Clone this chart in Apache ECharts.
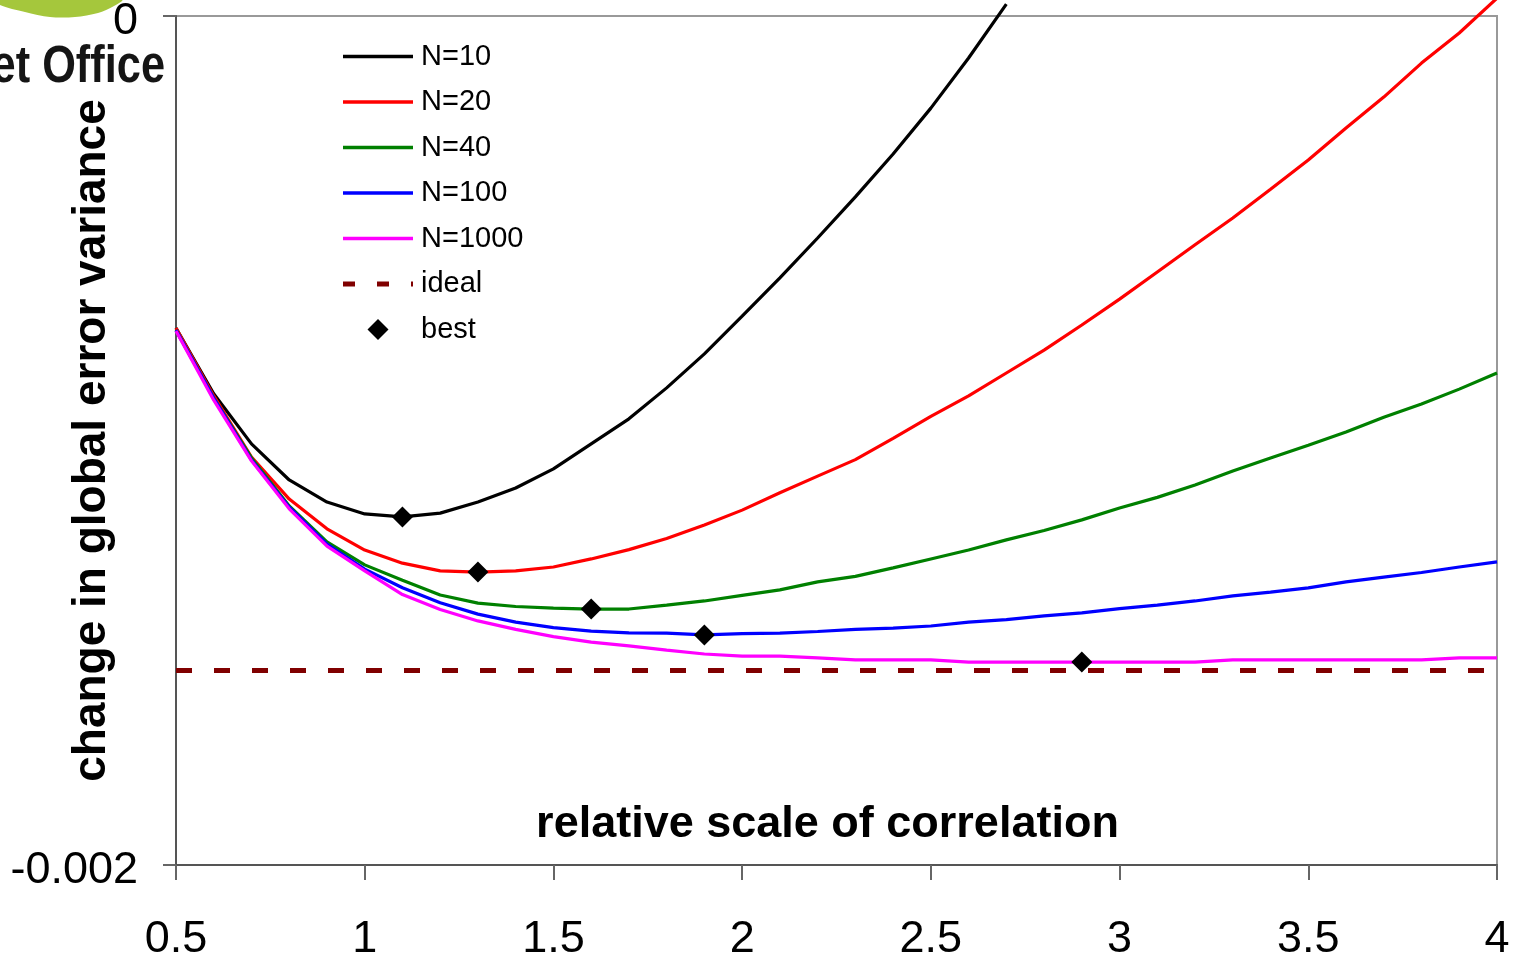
<!DOCTYPE html>
<html lang="en">
<head>
    <meta charset="UTF-8">
    <title>Error variance vs correlation scale</title>
    <script src="https://cdn.jsdelivr.net/npm/echarts@6/dist/echarts.min.js"></script>
    <style>
        html, body { margin: 0; padding: 0; background: #fff; }
        #chart { width: 1517px; height: 961px; }
    </style>
</head>
<body>
<div id="chart"></div>

<script>
    // x: relative scale of correlation
    var scales = [0.5, 0.6, 0.7, 0.8, 0.9, 1.0, 1.1, 1.2, 1.3, 1.4, 1.5, 1.6, 1.7, 1.8, 1.9, 2.0, 2.1, 2.2,
        2.3, 2.4, 2.5, 2.6, 2.7, 2.8, 2.9, 3.0, 3.1, 3.2, 3.3, 3.4, 3.5, 3.6, 3.7, 3.8, 3.9, 4.0];

    // change in global error variance, one list per ensemble size
    var n10 = [-0.000735, -0.000890, -0.001008, -0.001093, -0.001145, -0.001173, -0.001180, -0.001171,
        -0.001145, -0.001112, -0.001067, -0.001008, -0.000949, -0.000876, -0.000796, -0.000707, -0.000617,
        -0.000523, -0.000426, -0.000325, -0.000217, -0.000099, 0.000028];
    var n20 = [-0.000735, -0.000895, -0.001039, -0.001138, -0.001208, -0.001258, -0.001289, -0.001307,
        -0.001310, -0.001307, -0.001298, -0.001279, -0.001257, -0.001231, -0.001199, -0.001164, -0.001123,
        -0.001084, -0.001045, -0.000995, -0.000943, -0.000895, -0.000841, -0.000787, -0.000728, -0.000667,
        -0.000603, -0.000539, -0.000476, -0.000408, -0.000339, -0.000264, -0.000191, -0.000111, -0.000040,
        0.000042];
    var n40 = [-0.000740, -0.000900, -0.001041, -0.001154, -0.001239, -0.001293, -0.001329, -0.001364,
        -0.001383, -0.001391, -0.001395, -0.001397, -0.001397, -0.001388, -0.001378, -0.001365, -0.001352,
        -0.001333, -0.001320, -0.001300, -0.001279, -0.001258, -0.001234, -0.001212, -0.001187, -0.001159,
        -0.001134, -0.001105, -0.001072, -0.001041, -0.001011, -0.000980, -0.000945, -0.000914, -0.000879,
        -0.000841];
    var n100 = [-0.000740, -0.000900, -0.001046, -0.001157, -0.001244, -0.001303, -0.001347, -0.001382,
        -0.001409, -0.001428, -0.001441, -0.001449, -0.001453, -0.001454, -0.001458, -0.001455, -0.001454,
        -0.001450, -0.001445, -0.001442, -0.001437, -0.001428, -0.001422, -0.001413, -0.001406, -0.001396,
        -0.001388, -0.001378, -0.001366, -0.001357, -0.001347, -0.001333, -0.001322, -0.001311, -0.001298,
        -0.001286];
    var n1000 = [-0.000742, -0.000905, -0.001048, -0.001161, -0.001249, -0.001307, -0.001363, -0.001398,
        -0.001425, -0.001445, -0.001462, -0.001475, -0.001484, -0.001494, -0.001503, -0.001508, -0.001508,
        -0.001512, -0.001517, -0.001517, -0.001517, -0.001522, -0.001522, -0.001522, -0.001522, -0.001522,
        -0.001522, -0.001522, -0.001517, -0.001517, -0.001517, -0.001517, -0.001517, -0.001517, -0.001512,
        -0.001512];

    // ideal level and the best scale for each N
    var idealValue = -0.001542;
    var bestScale = [1.1, 1.3, 1.6, 1.9, 2.9];
    var bestValue = [-0.001180, -0.001310, -0.001397, -0.001458, -0.001522];

    var seriesNames = ['N=10', 'N=20', 'N=40', 'N=100', 'N=1000'];
    var seriesColors = ['#000000', '#ff0000', '#008000', '#0000ff', '#ff00ff'];
    var seriesValues = [n10, n20, n40, n100, n1000];

    var FONT = '"Liberation Sans", Arial, sans-serif';

    // legend icons (drawn to keep their aspect inside the icon box)
    var ICON_LINE = 'path://M0,0H70V3.5H0Z';
    var ICON_DASH = 'path://M0,0H12V5H0Z M34,0H46V5H34Z M68,0H70V5H68Z';
    var ICON_DIAMOND = 'path://M10,0L20,10L10,20L0,10Z';

    var chart = echarts.init(document.getElementById('chart'));

    function pairs(vals) {
        return vals.map(function (v, i) { return [scales[i], v]; });
    }

    var series = seriesNames.map(function (name, k) {
        return {
            name: name,
            type: 'line',
            data: pairs(seriesValues[k]),
            symbol: 'none',
            clip: false,
            color: seriesColors[k],
            lineStyle: { color: seriesColors[k], width: 3.2 },
            z: 3
        };
    });

    series.push({
        name: 'ideal',
        type: 'line',
        data: [[scales[0], idealValue], [scales[scales.length - 1], idealValue]],
        symbol: 'none',
        color: '#800000',
        lineStyle: { color: '#800000', width: 5, type: [16, 22] },
        z: 2
    });

    series.push({
        name: 'best',
        type: 'scatter',
        data: bestScale.map(function (x, i) { return [x, bestValue[i]]; }),
        symbol: 'diamond',
        symbolSize: 21,
        color: '#000000',
        itemStyle: { color: '#000000', opacity: 1 },
        z: 5
    });

    var legendData = seriesNames.map(function (n) { return { name: n, icon: ICON_LINE }; });
    legendData.push({ name: 'ideal', icon: ICON_DASH });
    legendData.push({ name: 'best', icon: ICON_DIAMOND });

    var option = {
        backgroundColor: '#ffffff',
        animation: false,
        grid: {
            left: 176,
            top: 16,
            right: 20,
            bottom: 96,
            outerBoundsMode: 'none',
            containLabel: false,
            show: true,
            borderColor: '#999999',
            borderWidth: 2,
            backgroundColor: 'transparent'
        },
        legend: {
            orient: 'vertical',
            left: 338,
            top: 37,
            itemWidth: 70,
            itemHeight: 21,
            itemGap: 16.5,
            symbolKeepAspect: true,
            data: legendData,
            textStyle: { color: '#000', fontSize: 29, fontFamily: FONT, padding: [0, 0, 0, 3] }
        },
        xAxis: {
            type: 'value',
            min: 0.5,
            max: 4,
            interval: 0.5,
            name: 'relative scale of correlation',
            nameLocation: 'middle',
            nameGap: -40,
            nameMoveOverlap: false,
            nameTextStyle: {
                color: '#000', fontSize: 45, fontWeight: 'bold', fontFamily: FONT,
                verticalAlign: 'middle', padding: [0, 18, 0, 0]
            },
            axisLine: { onZero: false, lineStyle: { color: '#555', width: 2 } },
            axisTick: { length: 15, lineStyle: { color: '#666', width: 2 } },
            axisLabel: { color: '#000', fontSize: 45, fontFamily: FONT, margin: 52 },
            splitLine: { show: false }
        },
        yAxis: {
            type: 'value',
            min: -0.002,
            max: 0,
            interval: 0.002,
            name: 'change in global error variance',
            nameLocation: 'middle',
            nameGap: 84,
            nameMoveOverlap: false,
            nameTextStyle: {
                color: '#000', fontSize: 46, fontWeight: 'bold', fontFamily: FONT, verticalAlign: 'middle'
            },
            axisLine: { onZero: false, lineStyle: { color: '#555', width: 2 } },
            axisTick: { length: 13, lineStyle: { color: '#666', width: 2 } },
            axisLabel: {
                color: '#000', fontSize: 45, fontFamily: FONT, margin: 38,
                verticalAlign: 'top',
                lineHeight: 12,
                formatter: function (v) { return v === 0 ? '0' : String(v); }
            },
            splitLine: { show: false }
        },
        // corner of the Met Office logo, cropped in the original
        graphic: [
            {
                type: 'polygon',
                shape: {
                    points: [[0, 0], [122, 0], [114, 6], [98, 13], [75, 17], [50, 17], [25, 12], [0, 5]],
                    smooth: 0.3
                },
                style: { fill: '#a5c73c' },
                z: 1
            },
            {
                type: 'text',
                x: 165,
                y: 68,
                scaleX: 0.85,
                style: {
                    text: 'et Office',
                    fill: '#151515',
                    font: 'bold 51px ' + FONT,
                    align: 'right',
                    verticalAlign: 'middle'
                },
                z: 1
            }
        ],
        series: series
    };

    chart.setOption(option);
</script>

</body>
</html>
